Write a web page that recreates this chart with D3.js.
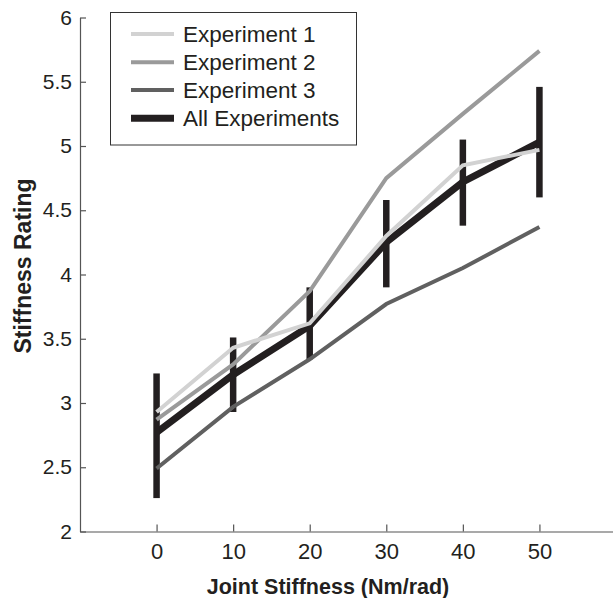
<!DOCTYPE html>
<html>
<head>
<meta charset="utf-8">
<script src="https://cdn.jsdelivr.net/npm/d3@7"></script>
<style>
  html, body { margin: 0; padding: 0; background: #fff; }
  svg { display: block; font-family: "Liberation Sans", Arial, sans-serif; }
</style>
</head>
<body>
<svg id="chart" width="613" height="598"></svg>
<script>
// ---- data ----
const stiffness = [0, 10, 20, 30, 40, 50];
const exp1 = [2.93, 3.43, 3.62, 4.30, 4.85, 4.97];
const exp2 = [2.87, 3.30, 3.87, 4.75, 5.25, 5.74];
const exp3 = [2.49, 2.97, 3.34, 3.77, 4.05, 4.37];
const allExp = [2.77, 3.22, 3.60, 4.25, 4.72, 5.03];
const errLow = [2.26, 2.93, 3.34, 3.90, 4.38, 4.60];
const errHigh = [3.23, 3.51, 3.90, 4.58, 5.05, 5.46];
const xTicks = [0, 10, 20, 30, 40, 50];
const yTicks = [2, 2.5, 3, 3.5, 4, 4.5, 5, 5.5, 6];
const seriesNames = ["Experiment 1", "Experiment 2", "Experiment 3", "All Experiments"];

const svg = d3.select("#chart");
const x = d3.scaleLinear().domain([-10, 60]).range([80, 616]);
const y = d3.scaleLinear().domain([2, 6]).range([531.5, 17.5]);

const colors = ["#d2d2d2", "#9a9a9a", "#606060", "#231f20"];
const widths = [4, 4, 4, 7];

// axes
const axisColor = "#555";
const xAxis = svg.append("g").attr("transform", `translate(0,${y(2)})`)
  .call(d3.axisBottom(x).tickValues(xTicks).tickSizeInner(-7).tickSizeOuter(0).tickPadding(12).tickFormat(d3.format("d")));
xAxis.select(".domain").attr("stroke", axisColor).attr("stroke-width", 1.2);
xAxis.selectAll(".tick line").attr("stroke", axisColor).attr("stroke-width", 1.2);
xAxis.selectAll(".tick text").attr("font-size", 22).attr("fill", "#231f20")
  .attr("font-family", "'Liberation Sans', Arial, sans-serif");

const yAxis = svg.append("g").attr("transform", `translate(${x(-10)},0)`)
  .call(d3.axisLeft(y).tickValues(yTicks).tickSizeInner(-6).tickSizeOuter(0).tickPadding(8).tickFormat(d => d3.format("")(d)));
yAxis.select(".domain").attr("stroke", axisColor).attr("stroke-width", 1.2);
yAxis.selectAll(".tick line").attr("stroke", axisColor).attr("stroke-width", 1.2);
yAxis.selectAll(".tick text").attr("font-size", 21).attr("fill", "#231f20")
  .attr("font-family", "'Liberation Sans', Arial, sans-serif");

// axis labels
svg.append("text").attr("x", 328).attr("y", 594).attr("text-anchor", "middle")
  .attr("font-size", 21.5).attr("font-weight", "bold").attr("fill", "#231f20")
  .text("Joint Stiffness (Nm/rad)");
svg.append("text").attr("transform", `translate(31,266) rotate(-90)`).attr("text-anchor", "middle")
  .attr("font-size", 23).attr("font-weight", "bold").attr("fill", "#231f20")
  .text("Stiffness Rating");

const line = d3.line().x((d, i) => x(stiffness[i])).y(d => y(d));

// All experiments + error bars
svg.append("path").datum(allExp).attr("d", line).attr("fill", "none")
  .attr("stroke", colors[3]).attr("stroke-width", widths[3]);
svg.selectAll(".err").data(stiffness).enter().append("line")
  .attr("x1", d => x(d)).attr("x2", d => x(d))
  .attr("y1", (d, i) => y(errLow[i])).attr("y2", (d, i) => y(errHigh[i]))
  .attr("stroke", colors[3]).attr("stroke-width", 6.5);

// experiments
[exp3, exp2, exp1].forEach((s, k) => {
  const idx = 2 - k;
  svg.append("path").datum(s).attr("d", line).attr("fill", "none")
    .attr("stroke", colors[idx]).attr("stroke-width", widths[idx]);
});

// legend
const lg = svg.append("g");
lg.append("rect").attr("x", 110.5).attr("y", 12.5).attr("width", 246).attr("height", 132.5)
  .attr("fill", "#fff").attr("stroke", "#333").attr("stroke-width", 1);
const rowY = [34, 62.3, 90, 118.3];
seriesNames.forEach((name, i) => {
  lg.append("line").attr("x1", 131).attr("x2", 174).attr("y1", rowY[i]).attr("y2", rowY[i])
    .attr("stroke", colors[i]).attr("stroke-width", widths[i]);
  lg.append("text").attr("x", 183).attr("y", rowY[i]).attr("dy", "0.35em")
    .attr("font-size", 22.5).attr("fill", "#231f20").text(name);
});
</script>
</body>
</html>
